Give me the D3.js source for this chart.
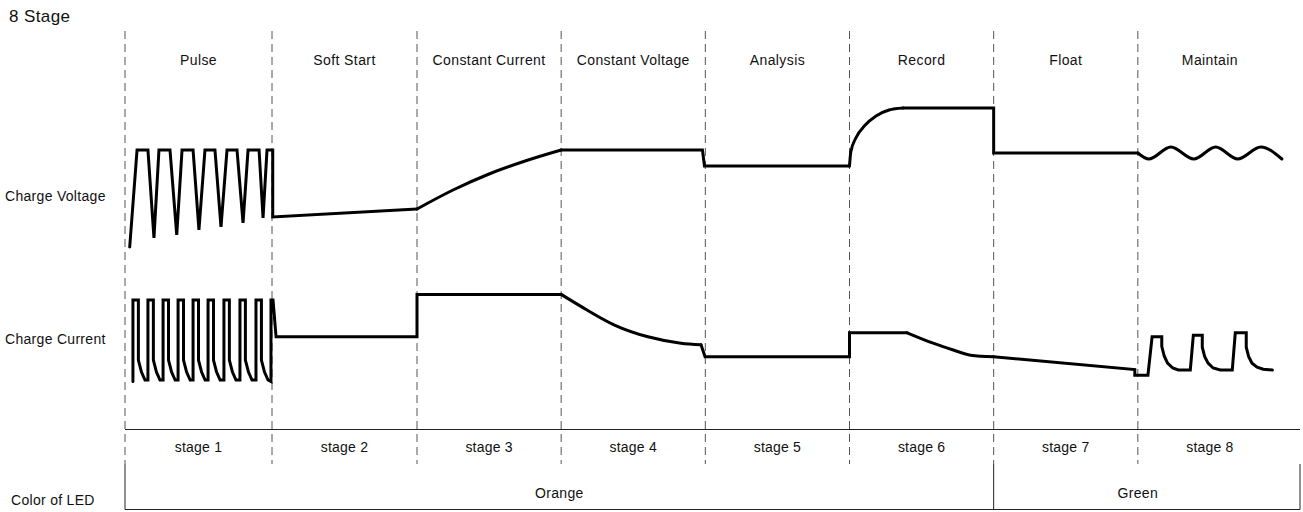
<!DOCTYPE html>
<html>
<head>
<meta charset="utf-8">
<script src="https://cdn.jsdelivr.net/npm/d3@7"></script>
<style>
  body { margin: 0; background: #fff; }
  text { font-family: "Liberation Sans", Arial, sans-serif; fill: #111; }
</style>
</head>
<body>
<svg id="chart" width="1303" height="512"></svg>
<script>
// stage names (top) and stage ticks (bottom)
const stageNames = ["Pulse", "Soft Start", "Constant Current", "Constant Voltage", "Analysis", "Record", "Float", "Maintain"];
const stageTicks = ["stage 1", "stage 2", "stage 3", "stage 4", "stage 5", "stage 6", "stage 7", "stage 8"];
const stageBounds = [0, 100, 200, 300, 400, 500, 600, 700, 800];
const ledNames = ["Orange", "Green"];
const ledBounds = [0, 600, 800];

// charge voltage, [time, level]
const voltagePulse = [
  [3.2, 0.3], [8.2, 10], [15.6, 10], [19.7, 1.2], [23.1, 10], [30.6, 10], [35.2, 1.5],
  [38.8, 10], [46.3, 10], [50.3, 2], [54.4, 10], [61.2, 10], [65.3, 2.3], [69.4, 10],
  [76.2, 10], [80.3, 2.7], [83.7, 10], [91.2, 10], [93.9, 3.2], [96.6, 10], [100.5, 10],
  [100.5, 3.3], [200, 4.1]
];
const voltageCC = [[200, 4.1], [225, 6.0], [250, 7.6], [275, 8.9], [300, 10]];
const voltageCV = [[300, 10], [398, 10], [399.4, 8.4], [500, 8.4]];
const voltageRecord = [[500, 8.4], [500.9, 9.8], [504.6, 11.25], [510.6, 12.45], [518.4, 13.4], [527.4, 14], [537.1, 14.2]];
const voltageFloat = [[537.1, 14.2], [600, 14.2], [600, 9.7], [700, 9.7]];
const voltageMaintain = [[700, 9.7], [707.6, 9.1], [722.9, 10.3], [738.8, 9.1], [754, 10.3], [769.3, 9.1], [785.3, 10.3], [799.9, 9.1]];

// charge current, [time, level]
const currentPulse = [
  [5.4, -0.2], [5.4, 10], [9.1, 10], [9.1, 2.5], [11.2, 1], [13.6, 0],
  [15.6, 0], [15.6, 10], [19.3, 10], [19.3, 2.5], [21.4, 1], [23.8, 0],
  [25.9, 0], [25.9, 10], [29.6, 10], [29.6, 2.5], [31.7, 1], [34.1, 0],
  [36.1, 0], [36.1, 10], [39.8, 10], [39.8, 2.5], [41.9, 1], [44.3, 0],
  [46.3, 0], [46.3, 10], [50, 10], [50, 2.5], [52.1, 1], [54.5, 0],
  [56.5, 0], [56.5, 10], [60.2, 10], [60.2, 2.5], [62.3, 1], [64.7, 0],
  [67.3, 0], [67.3, 10], [71, 10], [71, 2.5], [73.1, 1], [75.5, 0],
  [78.2, 0], [78.2, 10], [81.9, 10], [81.9, 2.5], [84, 1], [86.4, 0],
  [89.1, 0], [89.1, 10], [92.8, 10], [92.8, 2.5], [94.9, 1], [97.3, 0],
  [99.3, -0.2], [99.3, 10], [100.7, 10], [102.8, 5.4],
  [200, 5.4], [200, 10.7], [300, 10.7]
];
const currentCV = [[300, 10.7], [313.7, 9.2], [336.6, 6.9], [360.2, 5.4], [383.1, 4.6], [397, 4.4]];
const currentAnalysis = [[397, 4.4], [399.8, 2.9], [500, 2.9], [500, 5.9], [540, 5.9]];
const currentRecord = [[540, 5.9], [558, 4.6], [572, 3.75], [584, 3.1], [600, 2.9]];
const currentMaintain = [
  [600, 2.9], [697.9, 1.3], [697.9, 0.6], [707, 0.6], [709.9, 5.4], [716.6, 5.4],
  [716.6, 4.2], [718.3, 3.0], [720.6, 2.1], [724.2, 1.5], [728.1, 1.25], [736.4, 1.25],
  [738.5, 5.6], [744.7, 5.6], [744.7, 4.1], [746.4, 2.9], [748.7, 2.1], [752.2, 1.5],
  [757.2, 1.25], [765.5, 1.25], [767.6, 5.9], [775.2, 5.9], [775.2, 4.1], [776.9, 2.9],
  [779.2, 2.1], [782.7, 1.6], [787, 1.35], [793.3, 1.25]
];

const svg = d3.select("#chart");
const rightEdge = 1300;

// scales
const x = d3.scaleLinear().domain([0, 100, 200, 800]).range([125, 272, 417, 1282]);
const yV = d3.scaleLinear().domain([0, 10]).range([250, 150]);
const yI = d3.scaleLinear().domain([0, 10]).range([380, 300]);

// title
svg.append("text")
  .attr("x", 9).attr("y", 22)
  .attr("font-size", "17px")
  .attr("letter-spacing", "0.4px")
  .text("8 Stage");

// dashed stage separators
svg.selectAll("line.sep")
  .data(stageBounds.slice(0, 8))
  .enter()
  .append("line")
  .attr("class", "sep")
  .attr("x1", d => x(d)).attr("x2", d => x(d))
  .attr("y1", 31).attr("y2", 464)
  .style("stroke", "#555")
  .style("stroke-width", 1)
  .style("stroke-dasharray", "8,5");

const mid = i => (x(stageBounds[i]) + x(stageBounds[i + 1])) / 2;

// stage names
svg.selectAll("text.stage")
  .data(stageNames)
  .enter()
  .append("text")
  .attr("class", "stage")
  .attr("x", (d, i) => mid(i))
  .attr("y", 65)
  .attr("text-anchor", "middle")
  .attr("font-size", "14px")
  .attr("letter-spacing", "0.4px")
  .text(d => d);

// row labels
svg.append("text").attr("x", 5).attr("y", 201).attr("font-size", "14px").attr("letter-spacing", "0.3px").text("Charge Voltage");
svg.append("text").attr("x", 5).attr("y", 344).attr("font-size", "14px").attr("letter-spacing", "0.3px").text("Charge Current");
svg.append("text").attr("x", 11).attr("y", 505).attr("font-size", "14px").attr("letter-spacing", "0.3px").text("Color of LED");

// waveforms
const segments = [
  { pts: voltagePulse, y: yV, curve: d3.curveLinear },
  { pts: voltageCC, y: yV, curve: d3.curveMonotoneX },
  { pts: voltageCV, y: yV, curve: d3.curveLinear },
  { pts: voltageRecord, y: yV, curve: d3.curveMonotoneX },
  { pts: voltageFloat, y: yV, curve: d3.curveLinear },
  { pts: voltageMaintain, y: yV, curve: d3.curveMonotoneX },
  { pts: currentPulse, y: yI, curve: d3.curveLinear },
  { pts: currentCV, y: yI, curve: d3.curveMonotoneX },
  { pts: currentAnalysis, y: yI, curve: d3.curveLinear },
  { pts: currentRecord, y: yI, curve: d3.curveMonotoneX },
  { pts: currentMaintain, y: yI, curve: d3.curveLinear }
];

svg.selectAll("path.wave")
  .data(segments)
  .enter()
  .append("path")
  .attr("class", "wave")
  .attr("d", s => d3.line().x(d => x(d[0])).y(d => s.y(d[1])).curve(s.curve)(s.pts))
  .style("fill", "none")
  .style("stroke", "#000")
  .style("stroke-width", 3)
  .style("stroke-linejoin", "miter")
  .style("stroke-linecap", "round");

// stage tick row
svg.append("line")
  .attr("x1", x(0)).attr("x2", rightEdge)
  .attr("y1", 429.5).attr("y2", 429.5)
  .style("stroke", "#222").style("stroke-width", 1);

svg.selectAll("text.tick")
  .data(stageTicks)
  .enter()
  .append("text")
  .attr("class", "tick")
  .attr("x", (d, i) => mid(i))
  .attr("y", 452)
  .attr("text-anchor", "middle")
  .attr("font-size", "14px")
  .attr("letter-spacing", "0.2px")
  .text(d => d);

// LED colour row
svg.append("line")
  .attr("x1", x(0)).attr("x2", rightEdge)
  .attr("y1", 509.5).attr("y2", 509.5)
  .style("stroke", "#222").style("stroke-width", 1);

svg.selectAll("line.led")
  .data(ledBounds.slice(0, 2).map(d => x(d)).concat([rightEdge]))
  .enter()
  .append("line")
  .attr("class", "led")
  .attr("x1", d => d).attr("x2", d => d)
  .attr("y1", 464).attr("y2", 509.5)
  .style("stroke", "#222").style("stroke-width", 1);

svg.selectAll("text.led")
  .data(ledNames)
  .enter()
  .append("text")
  .attr("class", "led")
  .attr("x", (d, i) => (x(ledBounds[i]) + x(ledBounds[i + 1])) / 2)
  .attr("y", 498)
  .attr("text-anchor", "middle")
  .attr("font-size", "14px")
  .attr("letter-spacing", "0.3px")
  .text(d => d);
</script>
</body>
</html>
